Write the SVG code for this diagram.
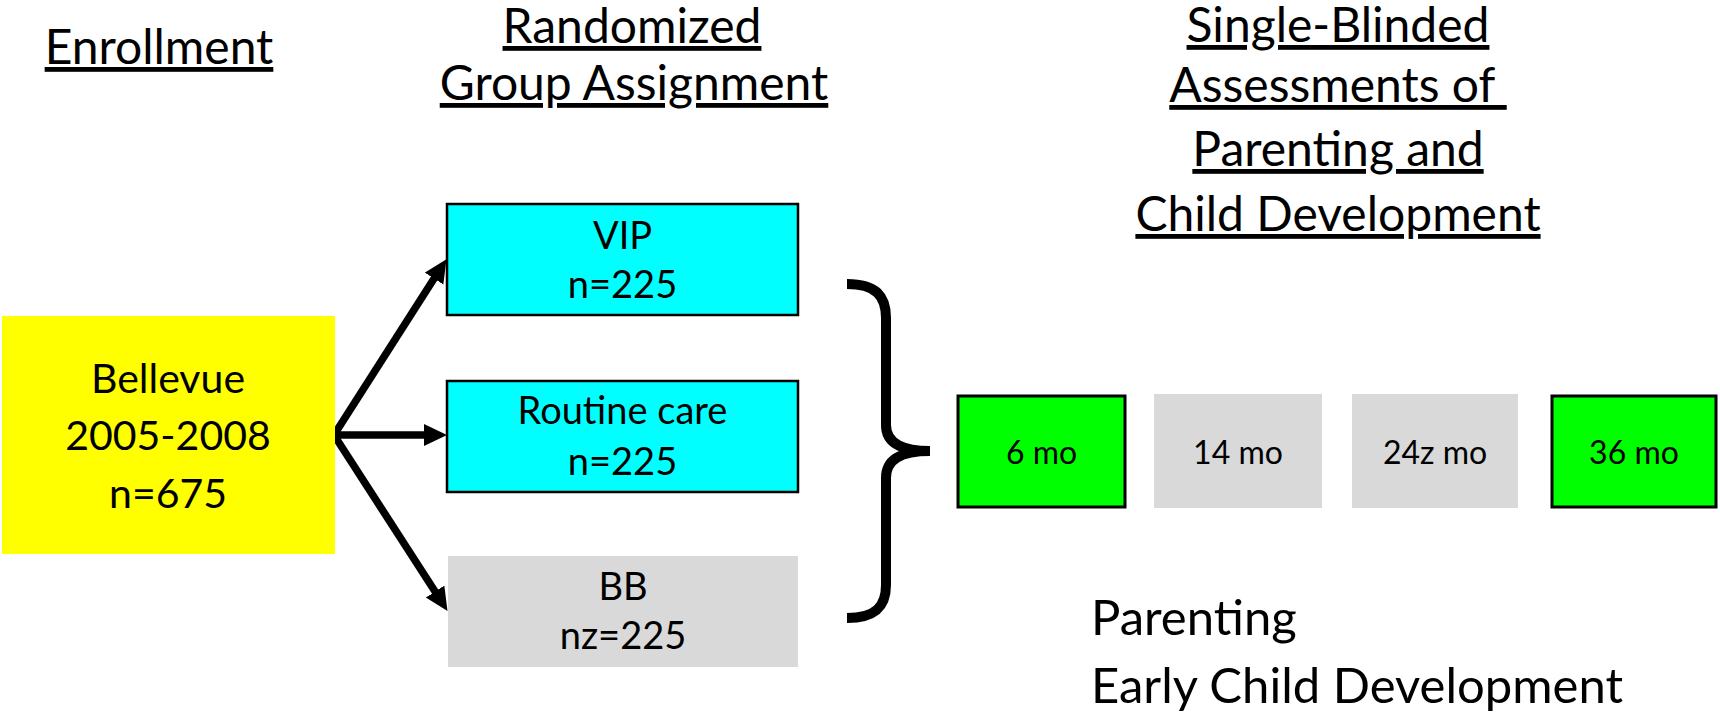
<svg xmlns="http://www.w3.org/2000/svg" width="1720" height="717" viewBox="0 0 1720 717">
<style>
text{font-family:Lato,"Open Sans","Liberation Sans",sans-serif;fill:#000;}
.title{font-size:48px;text-anchor:middle;text-decoration:underline;}
.box{font-size:38px;text-anchor:middle;}
.enr{font-size:41px;text-anchor:middle;}
.tl{font-size:32px;text-anchor:middle;}
.out{font-size:49px;}
.cyan{fill:#00ffff;stroke:#000;stroke-width:2.5;}
.green{fill:#00ff00;stroke:#000;stroke-width:3;}
.grey{fill:#d9d9d9;}
.arrow{stroke:#000;stroke-width:7.5;fill:none;marker-end:url(#ah);}
</style>
<defs>
<marker id="ah" markerUnits="userSpaceOnUse" markerWidth="24" markerHeight="24" refX="8" refY="11" orient="auto">
<path d="M0,0 L23,11 L0,22 z" fill="#000"/>
</marker>
</defs>
<rect width="1720" height="717" fill="#fff"/>
<g id="titles">
<text class="title" x="159" y="64">Enrollment</text>
<text class="title" x="632" y="43">Randomized</text>
<text class="title" x="634" y="100">Group Assignment</text>
<text class="title" x="1338" y="42">Single-Blinded</text>
<text class="title" x="1338" y="102" xml:space="preserve">Assessments of </text>
<text class="title" x="1338" y="166">Parenting and</text>
<text class="title" x="1338" y="231">Child Development</text>
</g>
<g id="connectors">
<line class="arrow" x1="334" y1="435" x2="438.4" y2="271.8"/>
<line class="arrow" x1="334" y1="435" x2="432" y2="435"/>
<line class="arrow" x1="334" y1="435" x2="439.4" y2="598.3"/>
<path id="brace" d="M847,284 C876,284 886,296 886,318 L886,425 C886,442 900,451 930,451 C900,451 886,460 886,478 L886,585 C886,606 876,618 847,618" fill="none" stroke="#000" stroke-width="10"/>
</g>
<g id="bellevue">
<rect x="2" y="316" width="333" height="238" fill="#ffff00"/>
<text class="enr" x="168" y="393">Bellevue</text>
<text class="enr" x="168" y="450">2005-2008</text>
<text class="enr" x="168" y="508">n=675</text>
</g>
<g id="vip">
<rect class="cyan" x="447" y="204" width="351" height="111"/>
<text class="box" x="622.5" y="249">VIP</text>
<text class="box" x="622.5" y="298">n=225</text>
</g>
<g id="routine">
<rect class="cyan" x="447" y="381" width="351" height="111"/>
<text class="box" x="622.5" y="424">Routine care</text>
<text class="box" x="622.5" y="475">n=225</text>
</g>
<g id="bb">
<rect class="grey" x="448" y="556" width="350" height="111"/>
<text class="box" x="623" y="600">BB</text>
<text class="box" x="623" y="649">nz=225</text>
</g>
<g id="m6">
<rect class="green" x="958" y="396" width="167" height="111"/>
<text class="tl" x="1041.5" y="464">6 mo</text>
</g>
<g id="m14">
<rect class="grey" x="1154" y="394" width="168" height="114"/>
<text class="tl" x="1238" y="464">14 mo</text>
</g>
<g id="m24">
<rect class="grey" x="1352" y="394" width="166" height="114"/>
<text class="tl" x="1435" y="464">24z mo</text>
</g>
<g id="m36">
<rect class="green" x="1552" y="396" width="164" height="111"/>
<text class="tl" x="1634" y="464">36 mo</text>
</g>
<g id="outcomes">
<text class="out" x="1091" y="635">Parenting</text>
<text class="out" x="1091" y="703">Early Child Development</text>
</g>
</svg>
